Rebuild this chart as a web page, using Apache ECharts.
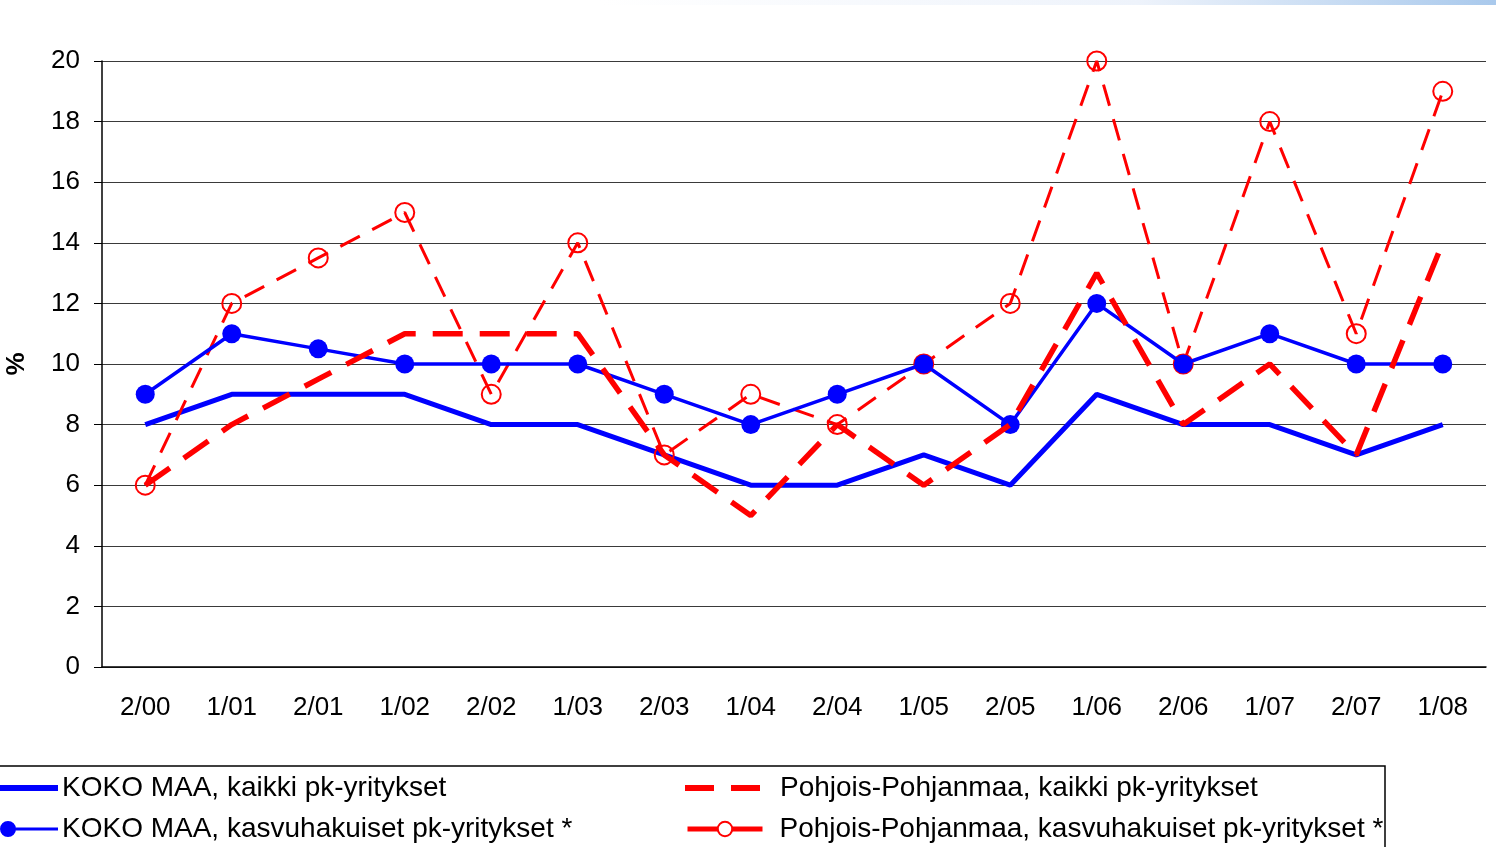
<!DOCTYPE html>
<html>
<head>
<meta charset="utf-8">
<script src="https://cdn.jsdelivr.net/npm/echarts@6/dist/echarts.min.js"></script>
<style>
    html, body { margin: 0; padding: 0; background: #fff; }
    #main { width: 1496px; height: 847px; }
</style>
</head>
<body>
<div id="main"></div>
<script>
// kaudet
var categories = ['2/00', '1/01', '2/01', '1/02', '2/02', '1/03', '2/03', '1/04',
    '2/04', '1/05', '2/05', '1/06', '2/06', '1/07', '2/07', '1/08'];
var yTicks = [0, 2, 4, 6, 8, 10, 12, 14, 16, 18, 20];

var kokoKaikki = [8, 9, 9, 9, 8, 8, 7, 6, 6, 7, 6, 9, 8, 8, 7, 8];
var kokoKasvu = [9, 11, 10.5, 10, 10, 10, 9, 8, 9, 10, 8, 12, 10, 11, 10, 10];
var ppKaikki = [6, 8, 9.5, 11, 11, 11, 7, 5, 8, 6, 8, 13, 8, 10, 7, 14];
var ppKasvu = [6, 12, 13.5, 15, 9, 14, 7, 9, 8, 10, 12, 20, 10, 18, 11, 19];

var names = [
    'KOKO MAA, kaikki pk-yritykset',
    'KOKO MAA, kasvuhakuiset pk-yritykset *',
    'Pohjois-Pohjanmaa, kaikki pk-yritykset',
    'Pohjois-Pohjanmaa, kasvuhakuiset pk-yritykset *'
];

var fontName = 'Arial, "Liberation Sans", sans-serif';
var legendText = { fontSize: 28, color: '#000', fontFamily: fontName };

// yksi legenda per rivi, jotta sijainti pysyy kuten alkuperäisessä
function legendItem(name, left, top, w, h, icon, textPad, extra) {
    var l = {
        left: left,
        top: top,
        padding: 0,
        itemWidth: w,
        itemHeight: h,
        textStyle: Object.assign({ padding: [0, 0, 0, textPad] }, legendText),
        data: [icon ? { name: name, icon: icon } : name]
    };
    return Object.assign(l, extra || {});
}

var myChart = echarts.init(document.getElementById('main'));
var option = {
    animation: false,
    backgroundColor: '#ffffff',
    textStyle: { fontFamily: fontName },
    graphic: [
        {
            type: 'rect',
            shape: { x: 600, y: 0, width: 896, height: 5 },
            style: {
                fill: new echarts.graphic.LinearGradient(0, 0, 1, 0, [
                    { offset: 0, color: 'rgba(255,255,255,1)' },
                    { offset: 0.6, color: '#eef3fb' },
                    { offset: 1, color: '#a9c9ec' }
                ])
            },
            silent: true
        },
        {
            type: 'rect',
            shape: { x: -2, y: 766, width: 1387, height: 100 },
            style: { fill: 'none', stroke: '#000', lineWidth: 1.5 },
            silent: true
        }
    ],
    legend: [
        legendItem(names[0], 0, 774, 58, 6, 'rect', -1),
        legendItem(names[1], 0, 815, 58, 16, 'path://M0,8a8,8 0 1,1 16,0a8,8 0 1,1 -16,0zM12,6.5h46v3h-46z', -1),
        legendItem(names[2], 685, 774, 75, 6, 'path://M0,0h29v6h-29zM46,0h29v6h-29z', 15),
        legendItem(names[3], 685, 815, 75, 18, null, 12, {
            lineStyle: { type: 'solid', width: 5 },
            itemStyle: { color: '#ffffff' }
        })
    ],
    grid: {
        left: 102,
        right: 10,
        top: 61,
        bottom: 180,
        outerBoundsMode: 'none'
    },
    xAxis: {
        type: 'category',
        boundaryGap: true,
        data: categories,
        axisLine: { show: true, lineStyle: { color: '#000', width: 1.5 } },
        axisTick: { show: false },
        axisLabel: { fontSize: 26, color: '#000', margin: 28, fontFamily: fontName }
    },
    yAxis: {
        type: 'value',
        min: yTicks[0],
        max: yTicks[yTicks.length - 1],
        interval: 2,
        name: '%',
        nameLocation: 'middle',
        nameGap: 72,
        nameTextStyle: { fontSize: 26, fontWeight: 'bold', color: '#000', fontFamily: fontName },
        axisLine: { show: true, lineStyle: { color: '#000', width: 1.5 } },
        axisTick: { show: true, inside: false, length: 8, lineStyle: { color: '#000' } },
        axisLabel: { fontSize: 26, color: '#000', margin: 22, fontFamily: fontName },
        splitLine: { show: true, lineStyle: { color: '#3a3a3a', width: 1.2 } }
    },
    series: [
        {
            name: names[0],
            type: 'line',
            data: kokoKaikki,
            symbol: 'none',
            color: '#0000ff',
            lineStyle: { color: '#0000ff', width: 5 },
            z: 2
        },
        {
            name: names[1],
            type: 'line',
            data: kokoKasvu,
            symbol: 'circle',
            symbolSize: 19,
            color: '#0000ff',
            itemStyle: { color: '#0000ff' },
            lineStyle: { color: '#0000ff', width: 3.5 },
            z: 4
        },
        {
            name: names[2],
            type: 'line',
            data: ppKaikki,
            symbol: 'none',
            color: '#ff0000',
            lineStyle: { color: '#ff0000', width: 5.5, type: [30, 17] },
            z: 5
        },
        {
            name: names[3],
            type: 'line',
            data: ppKasvu,
            symbol: 'circle',
            symbolSize: 19,
            color: '#ff0000',
            itemStyle: { color: 'rgba(255,255,255,0)', borderColor: '#ff0000', borderWidth: 2 },
            lineStyle: { color: '#ff0000', width: 3, type: [22, 14] },
            z: 3
        }
    ]
};
myChart.setOption(option);
</script>
</body>
</html>
